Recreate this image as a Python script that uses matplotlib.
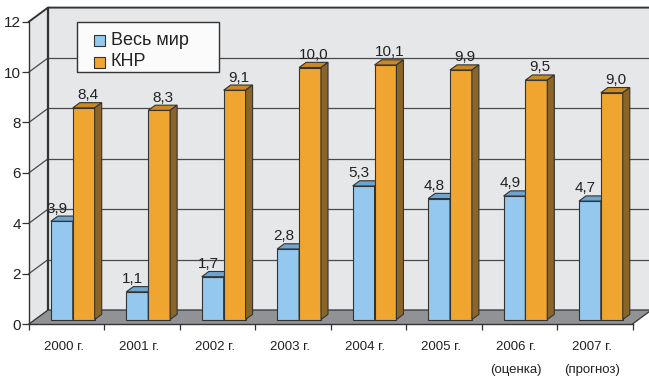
import matplotlib
matplotlib.use("Agg")
import matplotlib.pyplot as plt
from matplotlib import font_manager
from matplotlib.patches import Polygon, Rectangle
from matplotlib.lines import Line2D

# ---- data ----
categories = ["2000 г.", "2001 г.", "2002 г.", "2003 г.", "2004 г.", "2005 г.",
              "2006 г.\n(оценка)", "2007 г.\n(прогноз)"]
world = [3.9, 1.1, 1.7, 2.8, 5.3, 4.8, 4.9, 4.7]
china = [8.4, 8.3, 9.1, 10.0, 10.1, 9.9, 9.5, 9.0]
series_names = ["Весь мир", "КНР"]
yticks = [0, 2, 4, 6, 8, 10, 12]

# ---- style ----
W, H = 649, 378
wall_c = "#e6e7e9"
floor_c = "#909295"
grid_c = "#4a4a4a"
edge_c = "#333333"
blue_front, blue_top = "#94c8ee", "#6ea5cf"
or_front, or_top, or_side = "#f0a530", "#c98a22", "#8b6428"
text_c = "#222222"
installed = {f.name for f in font_manager.fontManager.ttflist}
has_narrow = "Liberation Sans Narrow" in installed
narrow = ["Liberation Sans Narrow", "Liberation Sans", "DejaVu Sans"]
regular = ["Liberation Sans", "DejaVu Sans"]
year_fs = 10.5 if has_narrow else 9.5
val_fs = 11.5 if has_narrow else 11

fig = plt.figure(figsize=(W / 100, H / 100), dpi=100)
px_l, px_r, py_b, py_t = 29, 632.5, 324, 21.6
ax = fig.add_axes([px_l / W, 1 - py_b / H, (px_r - px_l) / W, (py_b - py_t) / H])
n = len(categories)
ax.set_xlim(0, n)
ax.set_ylim(0, 12)
ax.set_facecolor("none")

ux = (px_r - px_l) / n          # px per category
uy = (py_b - py_t) / 12         # px per value unit
DX, DY = 19 / ux, 14 / uy       # full depth of the 3d box
f0, fd = 0.32, 0.37             # bar front position / bar depth (fraction)
ox, oy = f0 * DX, f0 * DY
ddx, ddy = fd * DX, fd * DY
xr = n + DX + 0.1

# walls
ax.add_patch(Polygon([(DX, DY), (xr, DY), (xr, 12 + DY), (DX, 12 + DY)],
                     closed=True, fc=wall_c, ec="none", clip_on=False, zorder=0.5))
ax.add_patch(Polygon([(0, 0), (DX, DY), (DX, 12 + DY), (0, 12)],
                     closed=True, fc=wall_c, ec="none", clip_on=False, zorder=0.5))
for v in yticks[1:-1]:
    ax.add_line(Line2D([DX, xr], [v + DY, v + DY], color=grid_c, lw=0.9,
                       clip_on=False, zorder=0.6))
    ax.add_line(Line2D([0, DX], [v, v + DY], color=grid_c, lw=0.9,
                       clip_on=False, zorder=0.6))
# top border and wall corner
ax.add_line(Line2D([0, DX, xr], [12, 12 + DY, 12 + DY], color=edge_c, lw=1.4,
                   clip_on=False, zorder=0.7))
ax.add_line(Line2D([DX, DX], [DY, 12 + DY], color=edge_c, lw=1.6,
                   clip_on=False, zorder=0.7))
# floor
ax.add_patch(Polygon([(0, 0), (n, 0), (n + DX, DY), (xr, DY), (xr, DY), (DX, DY)],
                     closed=True, fc=floor_c, ec="none", clip_on=False, zorder=0.8))
ax.add_line(Line2D([0, DX, xr], [0, DY, DY], color=edge_c, lw=0.9,
                   clip_on=False, zorder=0.9))
ax.add_line(Line2D([n, n + DX], [0, DY], color=edge_c, lw=0.9,
                   clip_on=False, zorder=0.9))

# bars
bw = 0.29
series = [(world, 0.21, blue_front, blue_top, blue_top, -0.06),
          (china, 0.50, or_front, or_top, or_side, 0.05)]
for i in range(n):
    for vals, off, cf, ct, cs, lab_dx in series:
        v = vals[i]
        x0 = i + off + ox
        z = 2 + i * 0.1
        ax.bar(x0, v, width=bw, bottom=oy, align="edge", color=cf,
               edgecolor=edge_c, linewidth=0.8, zorder=z, clip_on=False)
        ax.add_patch(Polygon([(x0, v + oy), (x0 + bw, v + oy),
                              (x0 + bw + ddx, v + oy + ddy), (x0 + ddx, v + oy + ddy)],
                             closed=True, fc=ct, ec=edge_c, lw=0.8, zorder=z,
                             clip_on=False))
        ax.add_patch(Polygon([(x0 + bw, oy), (x0 + bw + ddx, oy + ddy),
                              (x0 + bw + ddx, v + oy + ddy), (x0 + bw, v + oy)],
                             closed=True, fc=cs, ec=edge_c, lw=0.8, zorder=z,
                             clip_on=False))
        ax.text(x0 + bw / 2 + lab_dx, v + oy + ddy + 3.5 / uy,
                f"{v:.1f}".replace(".", ","), ha="center", va="baseline",
                fontsize=val_fs, family=narrow, color=text_c, zorder=6)

# axes / ticks
for s in ["top", "right"]:
    ax.spines[s].set_visible(False)
for s in ["left", "bottom"]:
    ax.spines[s].set_color(edge_c)
    ax.spines[s].set_linewidth(1.0)
    ax.spines[s].set_zorder(1)
ax.set_yticks(yticks)
ax.set_yticklabels([str(t) for t in yticks], family=narrow, fontsize=11, color=text_c)
ax.tick_params(axis="y", length=5, width=0.9, color=edge_c, pad=0.8, direction="out")
ax.set_xticks([i + 0.5 - 0.04 for i in range(n)])
ax.set_xticklabels(categories, family=narrow, fontsize=year_fs, color=text_c,
                   linespacing=2.15)
ax.tick_params(axis="x", which="major", length=0, pad=12.5)
ax.set_xticks(list(range(n + 1)), minor=True)
ax.tick_params(axis="x", which="minor", length=4.3, width=0.9, color=edge_c,
               direction="out")

# legend (drawn in figure pixel space)
def fx(x):
    return x / W

def fy(y):
    return 1 - y / H

fig.add_artist(Rectangle((fx(77), fy(72)), fx(219) - fx(77), fy(22) - fy(72),
                         transform=fig.transFigure, fc="#fbfbfb", ec=edge_c,
                         lw=1.0, zorder=10))
for (name, col), yc in zip(zip(series_names, [blue_front, or_front]), [40.5, 62]):
    fig.add_artist(Rectangle((fx(94), fy(yc + 5.5)), fx(11), fy(0) - fy(11),
                             transform=fig.transFigure, fc=col, ec=edge_c,
                             lw=0.8, zorder=11))
    fig.text(fx(111), fy(yc), name, ha="left", va="center", fontsize=13,
             family=regular, color=text_c, zorder=11)

fig.savefig("out.png", dpi=100)
